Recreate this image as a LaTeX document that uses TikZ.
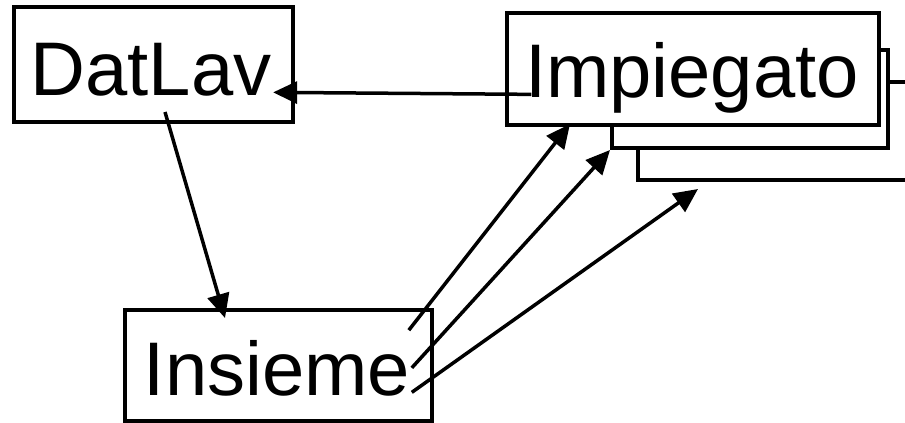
\documentclass[tikz,border=0pt]{standalone}
\usepackage{fontspec}
\setmainfont{Liberation Sans}
\usetikzlibrary{arrows.meta}

\begin{document}
\begin{tikzpicture}[x=1pt, y=-1pt, line width=3.5pt,
    box/.style={draw, fill=white, rectangle, inner sep=0pt, line width=4pt},
    lbl/.style={inner sep=0pt, anchor=base, font=\fontsize{76pt}{90pt}\selectfont},
    link/.style={-{Triangle[length=24pt, width=22pt]}}]

    % --- 1. 画面の範囲 ---
    \path[use as bounding box, clip] (0,0) rectangle (905,423);

    % --- 2. 枠（Impiegatoは三枚重ね） ---
    \node[box, minimum width=282pt, minimum height=98pt]  (imp3) at (779,131) {};
    \node[box, minimum width=276pt, minimum height=98pt]  (imp2) at (750,99) {};
    \node[box, minimum width=372pt, minimum height=112pt] (imp1) at (693,69) {};
    \node[box, minimum width=279pt, minimum height=115pt] (datbox) at (153.5,64.5) {};
    \node[box, minimum width=307pt, minimum height=111pt] (insbox) at (278.5,365.5) {};

    % --- 3. 文字 ---
    \node[lbl] (datlav) at (151,95)  {DatLav};
    \node[lbl] (imp)    at (692,97)  {Impiegato};
    \node[lbl] (ins)    at (277,395) {Insieme};

    % --- 4. 矢印 ---
    \draw[link] ([xshift=8pt]imp.mid west) -- (datlav.mid east);
    \draw[link] ([xshift=14pt, yshift=-17pt]datlav.base) -- ([xshift=-53.5pt, yshift=-10pt]insbox.north);
    \draw[link] ([xshift=-3pt, yshift=8pt]ins.north east) -- ([xshift=65pt, yshift=3pt]imp1.south west);
    \draw[link] (ins.east) -- (imp2.south west);
    \draw[link] (ins.mid east) -- ([xshift=62pt, yshift=-7pt]imp3.south west);

\end{tikzpicture}
\end{document}
